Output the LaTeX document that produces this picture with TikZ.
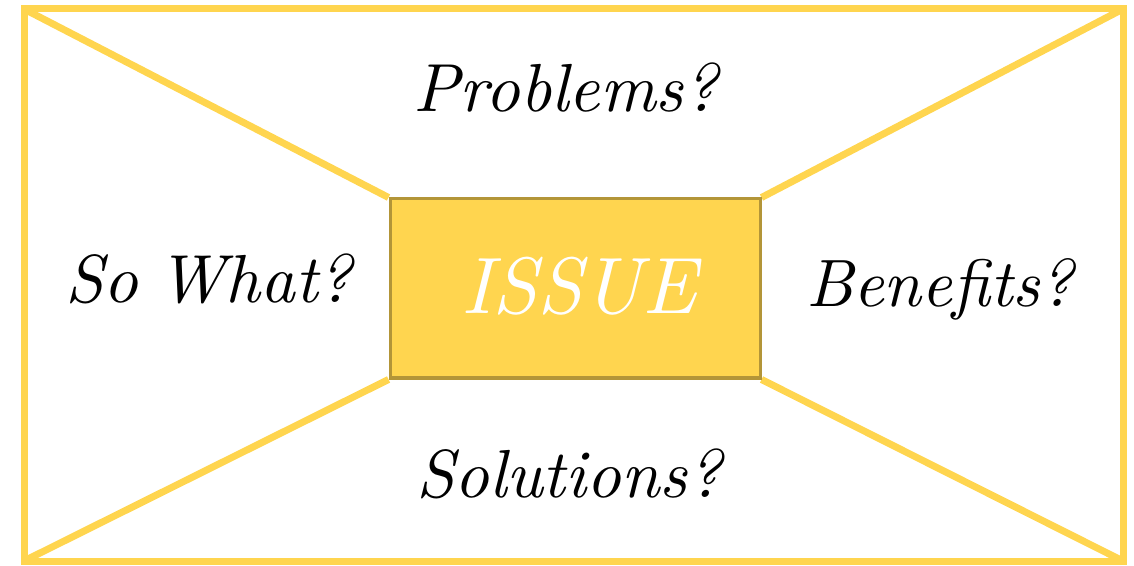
\documentclass[tikz,border=0pt]{standalone}
\usepackage{fontspec}
\usetikzlibrary{positioning}
\definecolor{gold}{HTML}{FFD54F}
\definecolor{darkgold}{HTML}{B39538}
\newcommand{\bigit}[2]{\scalebox{#1}{\itshape\spaceskip=0.28em #2}}
\begin{document}
\begin{tikzpicture}
[x=0.5pt,y=-0.5pt,ln/.style={draw=gold,line width=3.5pt},
 box/.style={draw=darkgold,line width=1.5pt,fill=gold,minimum width=185pt,minimum height=89.5pt,inner sep=0pt,text=white},
 lbl/.style={anchor=base,inner sep=0pt}]
\useasboundingbox (0,0) rectangle (1134,566);
\coordinate (NW) at (24,9);
\coordinate (NE) at (1123,9);
\coordinate (SE) at (1123,561);
\coordinate (SW) at (24,561);

\node [box] at (575,288.5) (issue) {};

\draw [ln] (NW) -- (issue.north west);
\draw [ln] (NE) -- (issue.north east);
\draw [ln] (SE) -- (issue.south east);
\draw [ln] (SW) -- (issue.south west);
\draw [ln,line join=miter] (NW) -- (NE) -- (SE) -- (SW) -- cycle;
\node [box] at (575,288.5) {};
\node [lbl,text=white] at (579,314) (issuetext) {\bigit{4.0}{ISSUE}};

\node [lbl] at (566,112) (problems) {\bigit{3.4}{Problems?}};
\node [lbl] at (209,303) (sowhat) {\bigit{3.4}{So What?}};
\node [lbl] at (940,307) (benefits) {\bigit{3.35}{Benefits?}};
\node [lbl] at (569,497) (solutions) {\bigit{3.4}{Solutions?}};
\end{tikzpicture}
\end{document}
